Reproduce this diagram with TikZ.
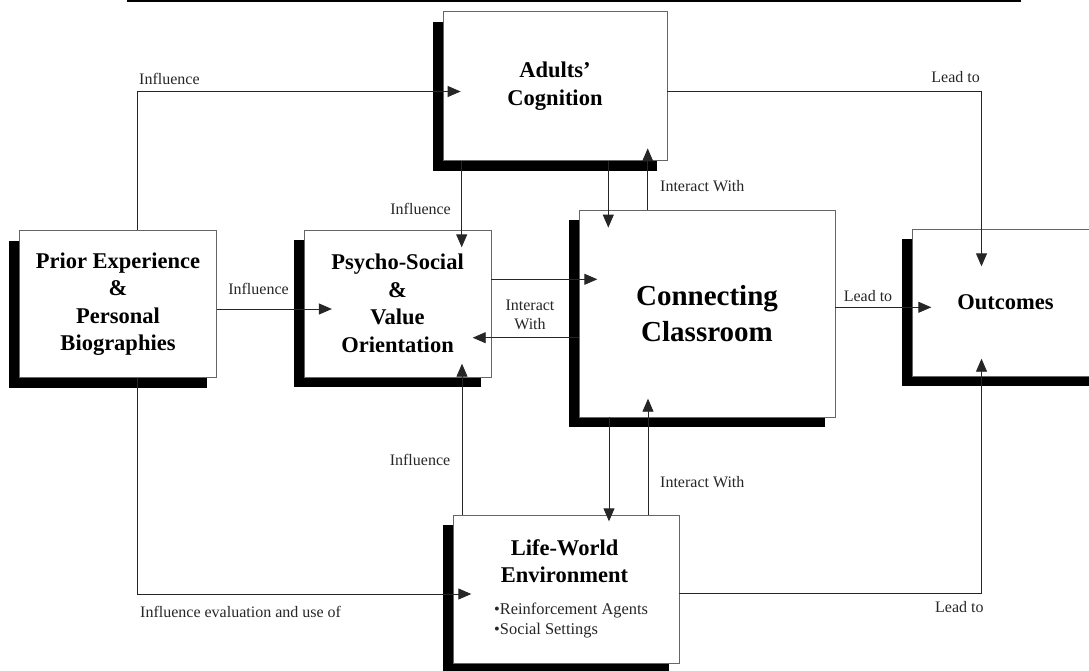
\documentclass[tikz,border=0pt]{standalone}
\usepackage{fontspec}
\setmainfont{Liberation Serif}
\usetikzlibrary{arrows.meta,shadows,calc}
\begin{document}
\begin{tikzpicture}[x=1pt,y=-1pt,
  box/.style={rectangle, draw=black!60, line width=0.8pt, fill=white, inner sep=0pt, align=center,
    font=\bfseries\fontsize{22.5}{27.5}\selectfont,
    drop shadow={shadow xshift=-10pt, shadow yshift=-10pt, fill=black, opacity=1}},
  conn/.style={draw=black!85, line width=0.9pt, -{Triangle[length=13pt,width=11pt]}},
  lab/.style={inner sep=0pt, text=black!85, font=\fontsize{16}{19}\selectfont, align=center},
]
\useasboundingbox (0,0) rectangle (1089,671);
\clip (0,0) rectangle (1089,671);

% caption rule at the top edge
\draw[line width=2pt] (127,1) -- (1021,1);

% boxes
\node[box, minimum width=197.4pt, minimum height=147pt] (prior) at (118,304.2)
  {Prior Experience\\\&\\Personal\\Biographies};
\node[box, minimum width=224pt, minimum height=149pt] (adults) at (555,86.3)
  {Adults'\\Cognition};
\node[box, minimum width=187pt, minimum height=147pt] (psycho) at (397.5,303.5)
  {Psycho-Social\\\&\\Value\\Orientation};
\node[box, minimum width=256pt, minimum height=207pt,
      font=\bfseries\fontsize{29}{36.5}\selectfont] (conn) at (707,313.5)
  {Connecting\\Classroom};
\node[box, minimum width=187pt, minimum height=147pt] (outc) at (1005.5,302.5)
  {Outcomes};
\node[box, minimum width=226pt, minimum height=148pt] (life) at (566,589) {};
\node[inner sep=0pt, align=center, font=\bfseries\fontsize{22.5}{27}\selectfont] (lwtitle)
  at (564.5,561.5) {Life-World\\Environment};
\node[inner sep=0pt, align=left, anchor=west, text=black!85,
      font=\fontsize{16.4}{20}\selectfont] (lwitems)
  at (494,620.7) {•Reinforcement Agents\\•Social Settings};

% connectors
\draw[conn] ($(prior.north)+(19,0)$) |- ($(adults.west)+(18,5.2)$);
\draw[conn] ($(adults.east)+(0,4.7)$) -| ($(outc.north)+(-24,37.7)$);
\draw[conn] ($(adults.south)+(-93.3,0)$) -- ($(psycho.north)+(64.2,17.7)$);
\draw[conn] ($(adults.south)+(53.3,0)$) -- ($(conn.north)+(-98.7,18)$);
\draw[conn] ($(conn.north)+(-59.3,0)$) -- ($(adults.south)+(92.7,-12.8)$);
\draw[conn] ($(prior.east)+(0,4.8)$) -- ($(psycho.west)+(28.3,5.5)$);
\draw[conn] ($(psycho.east)+(0,-24.2)$) -- ($(conn.west)+(18.7,-34.2)$);
\draw[conn] ($(conn.west)+(0,24.2)$) -- ($(psycho.east)+(-18.7,34.2)$);
\draw[conn] ($(prior.south)+(19,0)$) |- ($(life.west)+(18.7,5)$);
\draw[conn] ($(life.north)+(-104,0)$) -- ($(psycho.south)+(64.5,-13.7)$);
\draw[conn] ($(conn.south)+(-98,0)$) -- ($(life.north)+(43,6.7)$);
\draw[conn] ($(life.north)+(82,0)$) -- ($(conn.south)+(-59,-18.7)$);
\draw[conn] ($(conn.east)+(0,-6.2)$) -- ($(outc.west)+(19.7,4.8)$);
\draw[conn] ($(life.east)+(0,4.5)$) -| ($(outc.south)+(-24,-17.7)$);

% connector labels
\node[lab, anchor=west] (l1) at (139,79) {Influence};
\node[lab, anchor=east] (l2) at (980,77) {Lead to};
\node[lab, anchor=east] (l3) at (451,209) {Influence};
\node[lab, anchor=west] (l4) at (660,185.7) {Interact With};
\node[lab] (l5) at (258.5,289) {Influence};
\node[lab] (l6) at (530,314.5) {Interact\\With};
\node[lab] (l7) at (868,296) {Lead to};
\node[lab, anchor=east] (l8) at (450.4,460) {Influence};
\node[lab, anchor=west] (l9) at (660,481.7) {Interact With};
\node[lab, anchor=west] (l10) at (140,611.7) {Influence evaluation and use of};
\node[lab, anchor=west] (l11) at (935,607) {Lead to};
\end{tikzpicture}
\end{document}
